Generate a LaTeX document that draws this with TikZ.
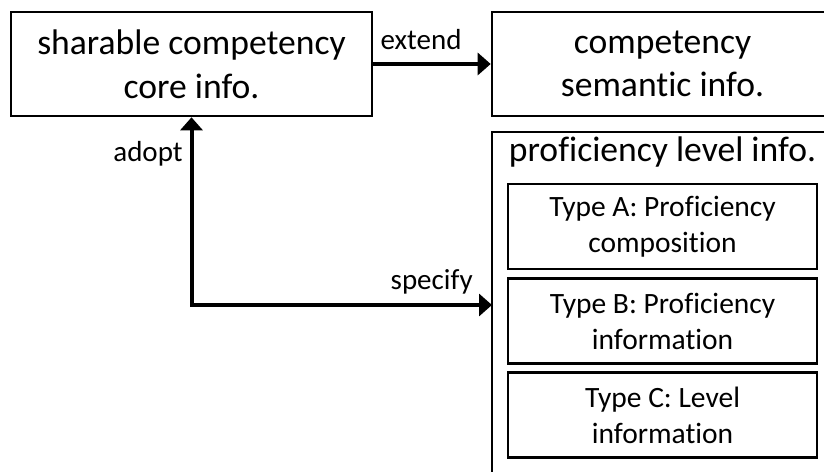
\documentclass[tikz,border=0pt]{standalone}
\usepackage{fontspec}
\setmainfont[Ligatures=NoCommon]{Carlito}
\usetikzlibrary{arrows.meta}
\begin{document}
\begin{tikzpicture}[x=1pt,y=1pt,
  bigbox/.style={draw, line width=2.6pt, inner sep=0pt, align=center,
    font=\fontsize{35.6}{43.6}\selectfont},
  typebox/.style={draw, line width=2.4pt, inner sep=0pt, align=center,
    minimum width=309pt, minimum height=85pt,
    font=\fontsize{29.5}{36}\selectfont},
  lbl/.style={inner sep=0pt, anchor=base, font=\fontsize{29}{35}\selectfont},
  conn/.style={line width=4pt, -{Triangle[length=13pt,width=22pt]}},
  conn2/.style={line width=4pt, {Triangle[length=13pt,width=22pt]}-{Triangle[length=13pt,width=22pt]}}
]
\clip (0,0) rectangle (824,471);
\node[bigbox, minimum width=361pt, minimum height=104pt] (b1) at (191.5,407)
  {sharable competency\\core info.};
\node[bigbox, minimum width=341pt, minimum height=104pt] (b2) at (662.5,407)
  {competency\\semantic info.};
\node[bigbox, minimum width=341pt, minimum height=349pt] (b3) at (662.5,164.5) {};
\node[inner sep=0pt, anchor=base, font=\fontsize{35.6}{43.6}\selectfont] (t3) at (662.5,309.3)
  {proficiency level info.};
\node[typebox] (ta) at (662.5,244.5) {Type A: Proficiency\\composition};
\node[typebox] (tb) at (662.5,150) {Type B: Proficiency\\information};
\node[typebox] (tc) at (662.5,56) {Type C: Level\\information};
\coordinate (sp) at (492,166);
\draw[conn] (b1.east) -- (b2.west);
\draw[conn2] (b1.south) |- (sp);
\node[lbl] (le) at (421,421) {extend};
\node[lbl] (la) at (148,309) {adopt};
\node[lbl] (ls) at (431.7,181) {specify};
\end{tikzpicture}
\end{document}
